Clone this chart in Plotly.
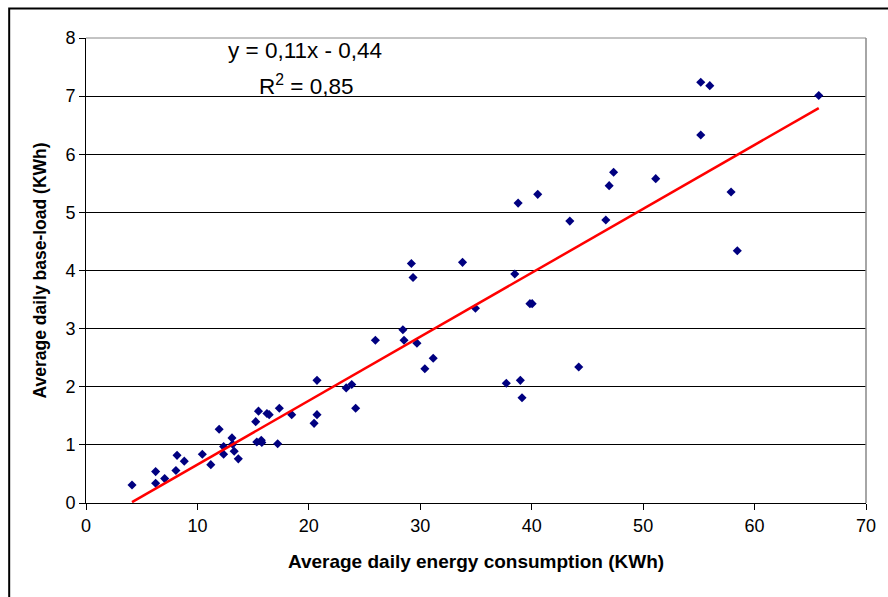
import plotly.graph_objects as go

# Data
energy_kwh = [4.13, 6.25, 6.25, 7.06, 8.07, 8.17, 8.82, 10.44, 11.2, 11.95,
              12.35, 12.35, 13.1, 13.16, 13.3, 13.67, 15.23, 15.48, 15.33, 15.73,
              15.78, 16.24, 16.44, 17.2, 17.35, 18.46, 20.47, 20.73, 20.73, 23.35,
              23.85, 24.2, 25.97, 28.44, 28.54, 29.7, 29.2, 29.35, 30.41, 31.16,
              33.79, 34.95, 37.72, 38.48, 38.78, 38.98, 39.13, 39.84, 40.04, 40.54,
              43.42, 44.22, 46.65, 46.95, 47.35, 51.13, 55.17, 55.17, 55.98, 57.89,
              58.45, 65.76]
baseload_kwh = [0.31, 0.54, 0.34, 0.42, 0.56, 0.82, 0.72, 0.84, 0.66, 1.27,
                0.97, 0.84, 1.12, 1.01, 0.89, 0.76, 1.40, 1.58, 1.05, 1.08,
                1.04, 1.54, 1.52, 1.02, 1.63, 1.52, 1.37, 2.11, 1.52, 1.98,
                2.04, 1.63, 2.80, 2.98, 2.80, 2.75, 4.12, 3.88, 2.31, 2.49,
                4.14, 3.35, 2.06, 3.94, 5.16, 2.11, 1.81, 3.43, 3.43, 5.31,
                4.85, 2.34, 4.87, 5.46, 5.69, 5.58, 7.24, 6.33, 7.18, 5.35,
                4.34, 7.01]
slope = 0.11
intercept = -0.44
equation_text = "y = 0,11x - 0,44"
r2_text = "R<sup>2</sup> = 0,85"
x_title = "Average daily energy consumption (KWh)"
y_title = "Average daily base-load (KWh)"
x_ticks = [0, 10, 20, 30, 40, 50, 60, 70]
y_ticks = [0, 1, 2, 3, 4, 5, 6, 7, 8]

W, H = 888, 597
ML, MR, MT, MB = 86, 15, 38, 94
PW, PH = W - ML - MR, H - MT - MB


def px_to_paper(px, py):
    return (px - ML) / PW, (H - MB - py) / PH


FONT = "Arial, Liberation Sans, sans-serif"

x_min, x_max = min(energy_kwh), max(energy_kwh)
trend_x = [x_min, x_max]
trend_y = [slope * v + intercept for v in trend_x]

fig = go.Figure()
fig.add_trace(go.Scatter(
    x=energy_kwh, y=baseload_kwh, mode="markers",
    marker=dict(symbol="diamond", size=7, color="#000080", line=dict(width=0)),
    showlegend=False, cliponaxis=False))
fig.add_trace(go.Scatter(
    x=trend_x, y=trend_y, mode="lines",
    line=dict(color="#FF0000", width=2.5), showlegend=False))

fx0, fy0 = px_to_paper(8.5, 8.5)
fx1, fy1 = px_to_paper(960, 660)
shapes = [
    dict(type="rect", xref="paper", yref="paper", x0=fx0, y0=fy1, x1=fx1, y1=fy0,
         line=dict(color="black", width=2), layer="above"),
    dict(type="line", xref="paper", yref="paper", x0=0, y0=1, x1=1, y1=1,
         line=dict(color="#888888", width=1), layer="above"),
    dict(type="line", xref="paper", yref="paper", x0=1, y0=0, x1=1, y1=1,
         line=dict(color="#888888", width=1.5), layer="above"),
]

fig.update_layout(
    width=W, height=H,
    margin=dict(l=ML, r=MR, t=MT, b=MB, pad=0),
    paper_bgcolor="white", plot_bgcolor="white",
    font=dict(family=FONT, color="black"),
    shapes=shapes,
    xaxis=dict(range=[0, 70], tickvals=x_ticks, ticktext=[str(v) for v in x_ticks],
               showgrid=False, zeroline=False, showline=True, linecolor="black",
               linewidth=1, ticks="outside", ticklen=6, tickcolor="black",
               tickfont=dict(size=18, family=FONT),
               title=dict(text="<b>" + x_title + "</b>", font=dict(size=19, family=FONT),
                          standoff=20)),
    yaxis=dict(range=[0, 8], tickvals=y_ticks, ticktext=[str(v) for v in y_ticks],
               showgrid=True, gridcolor="black", gridwidth=1, zeroline=False,
               showline=True, linecolor="black", linewidth=1,
               ticks="outside", ticklen=6, tickcolor="black",
               tickfont=dict(size=18, family=FONT),
               title=dict(text="<b>" + y_title + "</b>", font=dict(size=17.5, family=FONT),
                          standoff=14)),
    annotations=[
        dict(x=19.66, y=7.79, xref="x", yref="y", text=equation_text, showarrow=False,
             font=dict(size=22.5, family=FONT), xanchor="center", yanchor="middle"),
        dict(x=19.75, y=7.19, xref="x", yref="y", text=r2_text, showarrow=False,
             font=dict(size=22.5, family=FONT), xanchor="center", yanchor="middle"),
    ],
)

fig.write_html("out.html")
